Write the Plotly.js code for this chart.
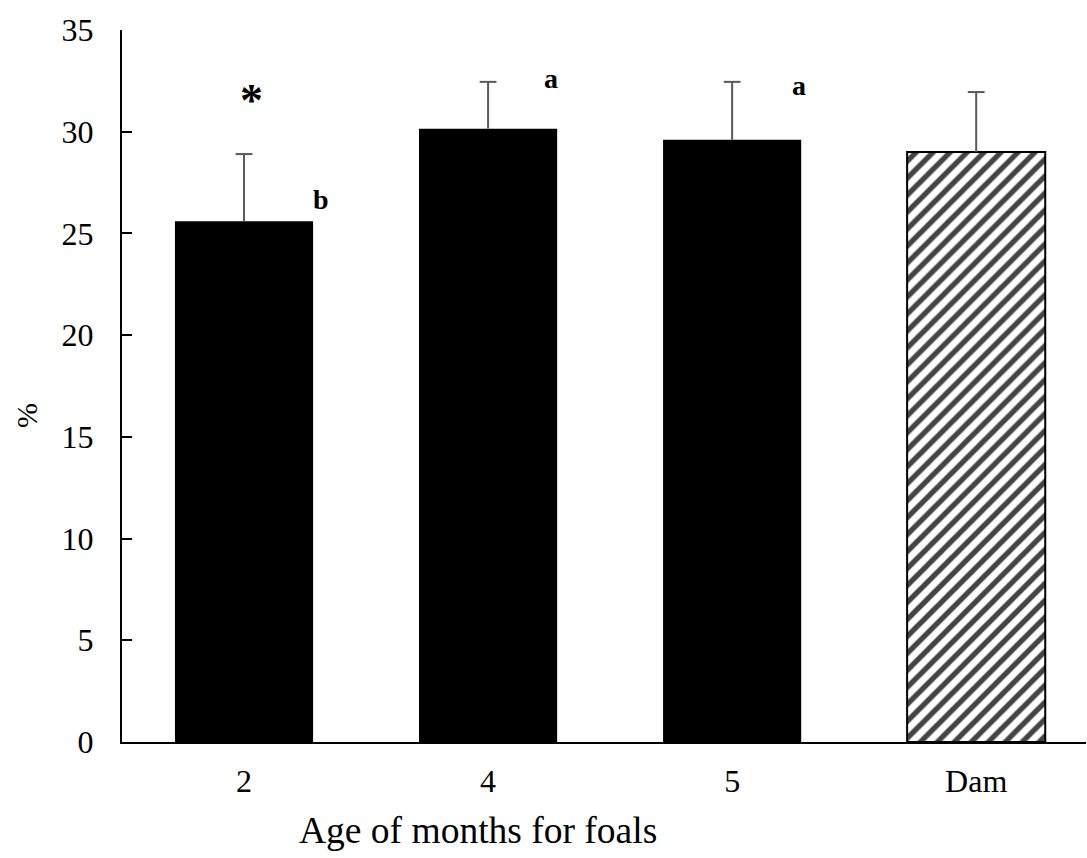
<!DOCTYPE html>
<html>
<head>
<meta charset="utf-8">
<script src="https://cdn.plot.ly/plotly-3.0.1.min.js"></script>
<style>body{margin:0;background:#fff;}#chart{width:1087px;height:858px;}</style>
</head>
<body>
<div id="chart"></div>
<script>
const categories = ["2", "4", "5", "Dam"];
const values = [25.6, 30.15, 29.6, 29.0];
const errors = [3.3, 2.3, 2.85, 2.95];
const yTicks = [0, 5, 10, 15, 20, 25, 30, 35];
const letters = [
  {label: "*", cat: 0, off: 0.03, y: 31.55, size: 46},
  {label: "b", cat: 0, off: 0.316, y: 26.65, size: 28},
  {label: "a", cat: 1, off: 0.257, y: 32.6, size: 28},
  {label: "a", cat: 2, off: 0.275, y: 32.25, size: 28}
];
const xTitle = "Age of months for foals";
const yTitle = "%";

const fontFam = '"Liberation Serif", "Times New Roman", serif';
const W = 1087, H = 858, M = {l: 122, r: 1, t: 30, b: 116};
const plotW = W - M.l - M.r, plotH = H - M.t - M.b;
const px2x = p => (p - M.l) / plotW;
const px2y = p => (H - M.b - p) / plotH;

const barTrace = {
  type: 'bar',
  x: [0, 1, 2, 3],
  y: values,
  width: 0.566,
  marker: {
    color: ['#000000', '#000000', '#000000', '#ffffff'],
    line: {color: '#000000', width: [0, 0, 0, 2]},
    pattern: {
      shape: ['', '', '', '/'],
      fgcolor: '#000000',
      bgcolor: '#ffffff',
      fgopacity: 1,
      size: 12,
      solidity: 0.45,
      fillmode: 'overlay'
    }
  },
  error_y: {
    type: 'data',
    symmetric: false,
    array: errors,
    arrayminus: errors.map(() => 0),
    color: '#595959',
    thickness: 2,
    width: 0
  },
  hoverinfo: 'skip'
};

// caps at the top of each error bar
const capTrace = {
  type: 'scatter',
  mode: 'markers',
  x: [0, 1, 2, 3],
  y: values.map((v, i) => v + errors[i]),
  marker: {symbol: 'line-ew', size: 12, line: {color: '#595959', width: 2}},
  hoverinfo: 'skip'
};

const annotations = letters.map(l => ({
  x: l.cat + l.off, y: l.y, xref: 'x', yref: 'y',
  text: '<b>' + l.label + '</b>', showarrow: false,
  xanchor: 'center', yanchor: 'middle',
  font: {family: fontFam, size: l.size, color: '#000'}
}));
annotations.push({
  x: px2x(26), y: px2y(416), xref: 'paper', yref: 'paper',
  text: yTitle, showarrow: false, textangle: -90,
  xanchor: 'center', yanchor: 'middle',
  font: {family: fontFam, size: 30, color: '#000'}
});
annotations.push({
  x: px2x(478), y: px2y(830), xref: 'paper', yref: 'paper',
  text: xTitle, showarrow: false,
  xanchor: 'center', yanchor: 'middle',
  font: {family: fontFam, size: 37.5, color: '#000'}
});

const layout = {
  width: W, height: H,
  margin: M,
  paper_bgcolor: '#fff', plot_bgcolor: '#fff',
  showlegend: false,
  font: {family: fontFam, color: '#000'},
  xaxis: {
    range: [-0.5, 3.45],
    tickmode: 'array',
    tickvals: [0, 1, 2, 3],
    ticktext: categories,
    ticks: '',
    showgrid: false, zeroline: false,
    showline: true, linecolor: '#000', linewidth: 2,
    tickfont: {family: fontFam, size: 32, color: '#000'},
    ticklabelstandoff: 10
  },
  yaxis: {
    range: [0, 35],
    tickmode: 'array',
    tickvals: yTicks,
    ticks: 'inside', ticklen: 10, tickwidth: 2, tickcolor: '#000',
    showgrid: false, zeroline: false,
    showline: true, linecolor: '#000', linewidth: 2,
    tickfont: {family: fontFam, size: 32, color: '#000'},
    ticklabelstandoff: 20
  },
  annotations: annotations
};

Plotly.newPlot('chart', [barTrace, capTrace], layout, {displayModeBar: false, staticPlot: true});
</script>
</body>
</html>
